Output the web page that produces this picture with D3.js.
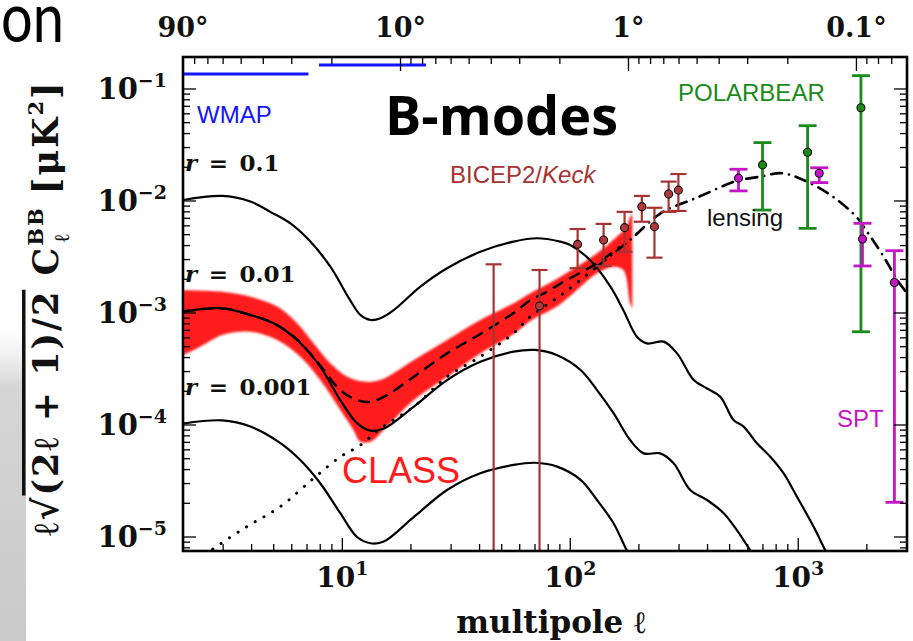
<!DOCTYPE html>
<html>
<head>
<meta charset="utf-8">
<script src="https://cdn.jsdelivr.net/npm/d3@7"></script>
<style>
  body { margin: 0; background: #fff; }
  svg { display: block; }
</style>
</head>
<body>
<div id="chart"></div>
<script>
// B-mode spectra, [multipole l, value in uK^2]
const tensorR01 = [[2,1.02e-2],[2.97,1.11e-2],[3.95,9.9e-3],[4.83,8.0e-3],[5.92,6.3e-3],[7.24,4.34e-3],[8.86,2.59e-3],
  [10.8,1.31e-3],[12.0,9.6e-4],[13.3,8.66e-4],[14.7,8.97e-4],[16.8,1.06e-3],[22.0,1.72e-3],[28.8,2.51e-3],[40.3,3.52e-3],
  [56.4,4.34e-3],[71.4,4.65e-3],[90.3,4.34e-3],[100,4.05e-3],[122,2.97e-3],[150,1.72e-3],[171,1.06e-3],[196,6.14e-4],
  [217,5.35e-4],[257,5.55e-4],[294,4.36e-4],[348,2.52e-4],[398,2.12e-4],[455,1.79e-4],[520,1.11e-4],[576,9.67e-5],
  [659,6.87e-5],[754,5.21e-5],[863,3.7e-5],[987,2.29e-5],[1167,1.24e-5],[1313,7.65e-6],[1400,6e-6]];
const tensorR001 = [[2,1.03e-3],[2.97,1.1e-3],[3.95,9.6e-4],[5.0,8.1e-4],[6.33,5.74e-4],[8.0,3.32e-4],[9.8,1.67e-4],
  [11.6,1.04e-4],[13.3,8.9e-5],[15.2,9.3e-5],[20.6,1.46e-4],[28.8,2.52e-4],[40.3,3.67e-4],[56.4,4.52e-4],[70,4.68e-4],
  [87.6,4.2e-4],[111,3.1e-4],[131,2.05e-4],[155,1.27e-4],[183,7.34e-5],[210,5.58e-5],[248,5.58e-5],[284,4.55e-5],
  [336,2.63e-5],[398,2.14e-5],[471,1.63e-5],[538,1.15e-5],[615,7.6e-6],[660,6e-6]];
const tensorR0001 = [[2,1.03e-4],[2.97,1.1e-4],[3.95,9.7e-5],[5.35,6.9e-5],[6.54,4.87e-5],[8.0,3.02e-5],[9.8,1.63e-5],
  [11.6,1.0e-5],[13.3,8.8e-6],[15.2,9.1e-6],[20.6,1.51e-5],[28.8,2.63e-5],[40.3,3.71e-5],[56.4,4.4e-5],[70,4.6e-5],
  [87.6,4.25e-5],[111,3.24e-5],[131,2.14e-5],[155,1.32e-5],[177,7.6e-6],[190,6e-6]];
// r = 0.01 plus lensing (dashed)
const totalR001 = [[2,1.03e-3],[2.97,1.1e-3],[3.95,9.6e-4],[5.0,8.1e-4],[6.33,5.8e-4],[8.0,3.4e-4],[9.8,2.05e-4],
  [11.6,1.67e-4],[13.3,1.61e-4],[15.7,1.85e-4],[20.6,2.7e-4],[28.8,4.36e-4],[40.3,6.5e-4],[56.4,1.0e-3],[66.8,1.3e-3],
  [79.3,1.55e-3],[93.5,1.9e-3],[131,2.78e-3],[165,3.9e-3]];
// lensing B-modes: dotted at low l, dash-dot at high l
const lensingLow = [[2.5,6.8e-6],[2.73,7.9e-6],[3.82,1.24e-5],[5.35,1.87e-5],[7.48,3.34e-5],[9.8,5.2e-5],[12.0,6.6e-5],
  [14.7,9.3e-5],[20.6,1.46e-4],[28.8,2.7e-4],[40.3,4.07e-4],[56.4,6.6e-4],[66.8,9.3e-4],[93.5,1.5e-3],[131,2.6e-3]];
const lensingHigh = [[131,2.6e-3],[183,4.49e-3],[250,7.8e-3],[359,1.07e-2],[501,1.44e-2],[556,1.54e-2],[683,1.65e-2],
  [849,1.77e-2],[1092,1.49e-2],[1422,1.09e-2],[1801,7.2e-3],[1937,5.89e-3],[2371,3.18e-3],[2719,1.97e-3],[3000,1.5e-3]];
// CLASS forecast band edges
const classUpper = [[2,1.6e-3],[2.97,1.55e-3],[3.95,1.4e-3],[5.18,1.14e-3],[6.33,8.1e-4],[7.48,5.37e-4],[8.86,3.56e-4],
  [10.5,2.7e-4],[12.4,2.44e-4],[14.7,2.52e-4],[20.6,3.8e-4],[28.8,5.74e-4],[40.3,8.66e-4],[56.4,1.22e-3],[66.8,1.5e-3],
  [90.3,2.1e-3],[131,3.41e-3],[160,4.8e-3],[177,5.89e-3],[183,7.2e-3],[187,7.6e-3]];
const classLower = [[2,4.2e-4],[2.38,5.0e-4],[2.97,6.37e-4],[3.95,6.8e-4],[5.18,5.74e-4],[6.54,4.07e-4],[8.0,2.52e-4],
  [9.8,1.36e-4],[11.2,9.0e-5],[12.0,7.1e-5],[13.3,7.1e-5],[15.7,9.7e-5],[20.6,1.67e-4],[28.8,2.7e-4],[40.3,4.36e-4],
  [56.4,6.5e-4],[66.8,8.5e-4],[90.3,1.2e-3],[131,2.26e-3],[155,2.59e-3],[171,2.42e-3],[183,1.22e-3],[187,1.1e-3]];

// measurements: l, point, lower and upper end of the bar (1e-6 = below the plot)
const bicep = [
  {l: 46.1, v: null, lo: 1e-6, hi: 2.72e-3},
  {l: 73.3, v: 1.155e-3, lo: 1e-6, hi: 2.42e-3},
  {l: 107.7, v: 4.1e-3, lo: 2.51e-3, hi: 5.62e-3},
  {l: 140, v: 4.49e-3, lo: 2.63e-3, hi: 6.24e-3},
  {l: 173, v: 5.78e-3, lo: 3.52e-3, hi: 8.0e-3},
  {l: 206, v: 8.9e-3, lo: 6.53e-3, hi: 1.11e-2},
  {l: 234, v: 5.9e-3, lo: 3.12e-3, hi: 8.7e-3},
  {l: 270, v: 1.155e-2, lo: 8.0e-3, hi: 1.49e-2},
  {l: 298, v: 1.25e-2, lo: 8.15e-3, hi: 1.74e-2}
];
const polarbear = [
  {l: 697, v: 2.1e-2, lo: 8.3e-3, hi: 3.32e-2},
  {l: 1099, v: 2.72e-2, lo: 5.7e-3, hi: 4.7e-2},
  {l: 1884, v: 6.8e-2, lo: 6.8e-4, hi: 0.1315}
];
const spt = [
  {l: 547, v: 1.6e-2, lo: 1.23e-2, hi: 1.92e-2},
  {l: 1236, v: 1.77e-2, lo: 1.46e-2, hi: 1.98e-2},
  {l: 1914, v: 4.58e-3, lo: 2.63e-3, hi: 6.32e-3},
  {l: 2642, v: 1.87e-3, lo: 2.04e-5, hi: 3.6e-3}
];
// WMAP upper limits
const wmap = [{l0: 2, l1: 7.1, v: 0.136}, {l0: 7.9, l1: 23.3, v: 0.164}];

// tick values
const yLabelTicks = [1e-5, 1e-4, 1e-3, 1e-2, 1e-1];
const xLabelTicks = [10, 100, 1000];
const degTicks = [80,70,60,50,40,30,20,10,9,8,7,6,5,4,3,2,1,0.9,0.8,0.7,0.6,0.5,0.4,0.3,0.2,0.1,0.09,0.08,0.07];
const degMajor = [10, 1, 0.1];
const degLabels = [{deg: 90, text: "90°"}, {deg: 10, text: "10°"}, {deg: 1, text: "1°"}, {deg: 0.1, text: "0.1°"}];

const serif = "'DejaVu Serif', serif";
const sans = "'Liberation Sans', Arial, sans-serif";

const svg = d3.select("#chart").append("svg")
    .attr("width", 913)
    .attr("height", 641);

const margin = {top: 57, right: 6, bottom: 90, left: 183};
const width = 913 - margin.left - margin.right;
const height = 641 - margin.top - margin.bottom;

// slide leftovers: cut title and grey strip
const defs = svg.append("defs");
const grad = defs.append("linearGradient")
    .attr("id", "strip").attr("x1", 0).attr("x2", 0).attr("y1", 0).attr("y2", 1);
grad.append("stop").attr("offset", "0%").attr("stop-color", "#e4e4e4").attr("stop-opacity", 0);
grad.append("stop").attr("offset", "18%").attr("stop-color", "#d6d6d6");
grad.append("stop").attr("offset", "100%").attr("stop-color", "#c9c9c9");
svg.append("rect").attr("x", 0).attr("y", 330).attr("width", 26).attr("height", 311).attr("fill", "url(#strip)");
svg.append("text").attr("x", 1).attr("y", 42)
    .attr("textLength", 63).attr("lengthAdjust", "spacingAndGlyphs")
    .style("font-family", "Lato, sans-serif").style("font-size", "70px").text("on");

defs.append("clipPath").attr("id", "plotClip")
  .append("rect").attr("width", width).attr("height", height);
defs.append("filter").attr("id", "soft").attr("x", "-5%").attr("y", "-5%").attr("width", "110%").attr("height", "110%")
  .append("feGaussianBlur").attr("stdDeviation", 1.1);

const g = svg.append("g")
    .attr("transform", `translate(${margin.left},${margin.top})`);

const x = d3.scaleLog().domain([2, 3000]).range([0, width]);
const y = d3.scaleLog().domain([7.5e-6, 0.193]).range([height, 0]);

const line = d3.line()
    .x(d => x(d[0]))
    .y(d => y(d[1]))
    .curve(d3.curveCatmullRom.alpha(0.5));

const plot = g.append("g").attr("clip-path", "url(#plotClip)");

// CLASS band
const bandPath = line(classUpper) + line(classLower.slice().reverse()).replace(/^M/, "L") + "Z";
plot.append("path")
    .attr("d", bandPath)
    .attr("fill", "#ff1c1c")
    .attr("filter", "url(#soft)");

// theory curves
[tensorR01, tensorR001, tensorR0001].forEach(s => {
  plot.append("path").datum(s)
      .attr("d", line)
      .attr("fill", "none")
      .attr("stroke", "#000")
      .attr("stroke-width", 2.2);
});

plot.append("path").datum(totalR001)
    .attr("d", line).attr("fill", "none")
    .attr("stroke", "#000").attr("stroke-width", 2.4)
    .attr("stroke-dasharray", "12 7");

plot.append("path").datum(lensingLow)
    .attr("d", line).attr("fill", "none")
    .attr("stroke", "#000").attr("stroke-width", 3)
    .attr("stroke-linecap", "round")
    .attr("stroke-dasharray", "0.1 10");

plot.append("path").datum(lensingHigh)
    .attr("d", line).attr("fill", "none")
    .attr("stroke", "#000").attr("stroke-width", 2.6)
    .attr("stroke-linecap", "round")
    .attr("stroke-dasharray", "11 7 0.1 7");

// WMAP limits
plot.selectAll("line.wmap")
  .data(wmap)
  .join("line")
    .attr("class", "wmap")
    .attr("x1", d => x(d.l0)).attr("x2", d => x(d.l1))
    .attr("y1", d => y(d.v)).attr("y2", d => y(d.v))
    .attr("stroke", "#1414ff").attr("stroke-width", 3);

function errorBars(data, color, cap, lw) {
  const eb = plot.append("g").attr("stroke", color).attr("stroke-width", lw);
  eb.selectAll("line.bar").data(data).join("line")
      .attr("x1", d => x(d.l)).attr("x2", d => x(d.l))
      .attr("y1", d => y(d.lo)).attr("y2", d => y(d.hi));
  eb.selectAll("line.top").data(data).join("line")
      .attr("x1", d => x(d.l) - cap / 2).attr("x2", d => x(d.l) + cap / 2)
      .attr("y1", d => y(d.hi)).attr("y2", d => y(d.hi));
  eb.selectAll("line.bot").data(data).join("line")
      .attr("x1", d => x(d.l) - cap / 2).attr("x2", d => x(d.l) + cap / 2)
      .attr("y1", d => y(d.lo)).attr("y2", d => y(d.lo));
}
function points(data, color) {
  plot.append("g").selectAll("circle")
    .data(data.filter(d => d.v !== null))
    .join("circle")
      .attr("cx", d => x(d.l)).attr("cy", d => y(d.v))
      .attr("r", 4)
      .attr("fill", color)
      .attr("stroke", "#111").attr("stroke-width", 1.1);
}

errorBars(bicep, "#a63232", 16, 2.2);
errorBars(polarbear, "#1a8a1a", 18, 2.8);
errorBars(spt, "#c814c8", 18, 2.8);
points(bicep, "#b03a3a");
points(polarbear, "#1a8a1a");
points(spt, "#c814c8");

// ticks
const isMajor = v => Math.abs(Math.log10(v) - Math.round(Math.log10(v))) < 1e-6;
const ticks = g.append("g").attr("stroke", "#000").attr("stroke-width", 1.3);
y.ticks().forEach(v => {
  const len = isMajor(v) ? 13 : 7;
  ticks.append("line").attr("x1", 0).attr("x2", len).attr("y1", y(v)).attr("y2", y(v));
  ticks.append("line").attr("x1", width).attr("x2", width - len).attr("y1", y(v)).attr("y2", y(v));
});
x.ticks().forEach(v => {
  const len = isMajor(v) ? 13 : 7;
  ticks.append("line").attr("x1", x(v)).attr("x2", x(v)).attr("y1", height).attr("y2", height - len);
});
degTicks.forEach(d => {
  const len = degMajor.includes(d) ? 14 : 7;
  ticks.append("line").attr("x1", x(180 / d)).attr("x2", x(180 / d)).attr("y1", 0).attr("y2", len);
});

// frame
g.append("rect")
    .attr("width", width).attr("height", height)
    .attr("fill", "none").attr("stroke", "#000").attr("stroke-width", 2.6);

// tick labels
const lab = g.append("g").style("font-family", serif).style("font-weight", "bold").attr("fill", "#111");
yLabelTicks.forEach(v => {
  const t = lab.append("text").attr("x", -16).attr("y", y(v) + 10).attr("text-anchor", "end")
      .style("font-size", "29px");
  t.append("tspan").text("10");
  t.append("tspan").attr("dy", -12).style("font-size", "19px")
      .text("\u2212" + Math.abs(Math.round(Math.log10(v))));
});
xLabelTicks.forEach(v => {
  const t = lab.append("text").attr("x", x(v)).attr("y", height + 36).attr("text-anchor", "middle")
      .style("font-size", "28px");
  t.append("tspan").text("10");
  t.append("tspan").attr("dy", -12).style("font-size", "19px").text(Math.round(Math.log10(v)));
});
degLabels.forEach(d => {
  lab.append("text").attr("x", x(180 / d.deg)).attr("y", -20).attr("text-anchor", "middle")
      .style("font-size", "27px").text(d.text);
});

// axis titles
lab.append("text")
    .attr("x", 551 - margin.left).attr("y", height + 82)
    .attr("text-anchor", "middle").style("font-size", "31px")
    .text("multipole \u2113");

const yt = svg.append("text")
    .attr("transform", "translate(58,308) rotate(-90)")
    .attr("text-anchor", "middle")
    .style("font-family", serif).style("font-weight", "bold").style("font-size", "35px")
    .style("letter-spacing", "2px")
    .attr("fill", "#111");
yt.append("tspan").text("\u2113\u221A");
yt.append("tspan").style("text-decoration", "overline").text("(2\u2113 + 1)/2");
yt.append("tspan").text(" C");
yt.append("tspan").attr("dy", -15).style("font-size", "21px").text("BB");
yt.append("tspan").attr("dx", -36).attr("dy", 26).style("font-size", "21px").text("\u2113");
yt.append("tspan").attr("dx", 24).attr("dy", -11).text(" [\u03BCK");
yt.append("tspan").attr("dy", -15).style("font-size", "21px").text("2");
yt.append("tspan").attr("dy", 15).text("]");

// annotations
const note = svg.append("g");
note.append("text").attr("x", 197).attr("y", 123).attr("fill", "#1414ff")
    .style("font-family", sans).style("font-size", "24px").text("WMAP");
note.append("text").attr("x", 678).attr("y", 101).attr("fill", "#1a8a1a")
    .style("font-family", sans).style("font-size", "24px").text("POLARBEAR");
note.append("text").attr("x", 707).attr("y", 226).attr("fill", "#111")
    .style("font-family", sans).style("font-size", "24px").text("lensing");
note.append("text").attr("x", 837).attr("y", 427).attr("fill", "#c814c8")
    .style("font-family", sans).style("font-size", "24px").text("SPT");
note.append("text").attr("x", 342).attr("y", 483).attr("fill", "#ff1c1c")
    .style("font-family", sans).style("font-size", "36px").text("CLASS");
const bk = note.append("text").attr("x", 450).attr("y", 183).attr("fill", "#a63232")
    .style("font-family", sans).style("font-size", "24px");
bk.append("tspan").text("BICEP2/");
bk.append("tspan").style("font-style", "italic").text("Keck");
note.append("text").attr("x", 385).attr("y", 135).attr("fill", "#000")
    .style("font-family", "'Open Sans', sans-serif").style("font-weight", "bold").style("font-size", "54px")
    .text("B-modes");

[{t: "0.1", yy: 171}, {t: "0.01", yy: 282}, {t: "0.001", yy: 395}].forEach(d => {
  const r = note.append("text").attr("x", 185).attr("y", d.yy).attr("fill", "#111")
      .style("font-family", serif).style("font-weight", "bold").style("font-size", "23px");
  r.append("tspan").style("font-style", "italic").text("r");
  r.append("tspan").text("\u2002=\u2002" + d.t);
});
</script>
</body>
</html>
